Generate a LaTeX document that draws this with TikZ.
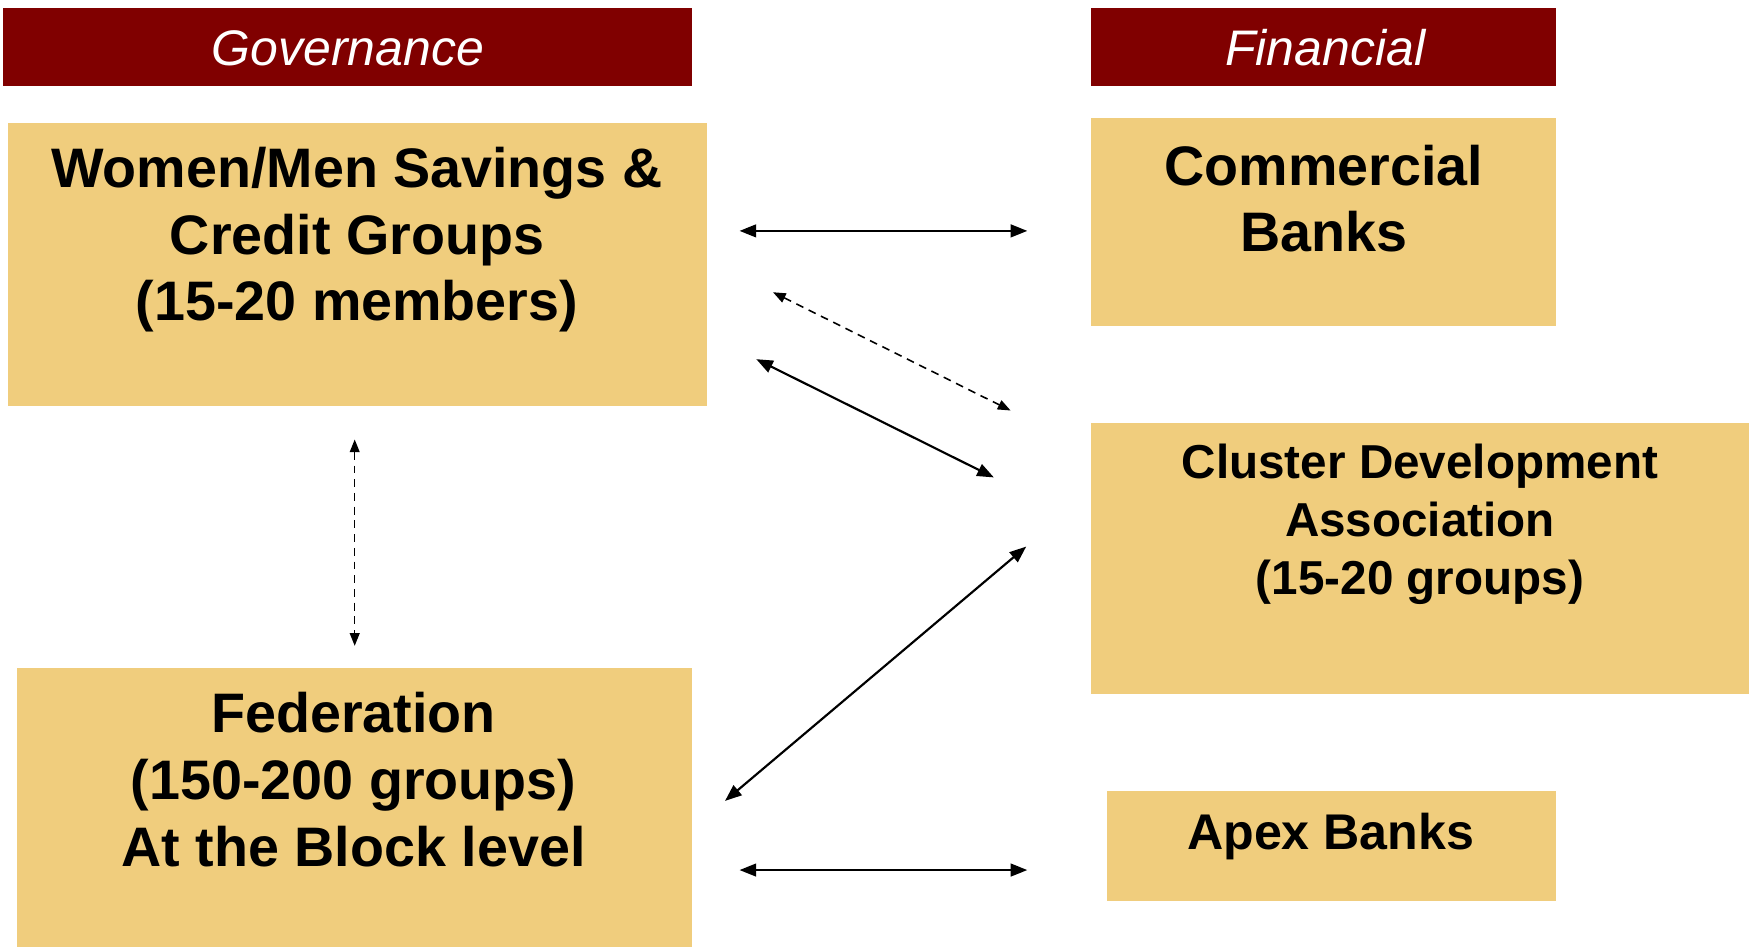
\documentclass[tikz,border=0pt]{standalone}
\usepackage{fontspec}
\setmainfont{Liberation Sans}
\usetikzlibrary{arrows.meta,fit}
\definecolor{hdrred}{HTML}{800000}
\definecolor{boxtan}{HTML}{F0CD7D}
\begin{document}
\begin{tikzpicture}[x=0.02cm,y=-0.02cm,
  box/.style={fill=boxtan, draw=none, inner sep=0pt},
  hdrbox/.style={fill=hdrred, draw=none, inner sep=0pt},
  hdrtext/.style={text=white, font=\fontsize{25.5}{30}\selectfont\itshape, inner sep=0pt},
  bigtext/.style={font=\fontsize{28.4}{34}\selectfont\bfseries, align=center, inner sep=0pt},
  cdatext/.style={font=\fontsize{24.3}{29.5}\selectfont\bfseries, align=center, inner sep=0pt},
  apextext/.style={font=\fontsize{25.6}{30}\selectfont\bfseries, align=center, inner sep=0pt},
  link/.style={line width=1.1pt, {Triangle[length=8.5pt,width=6.5pt]}-{Triangle[length=8.5pt,width=6.5pt]}},
  dlink/.style={line width=0.8pt, dash pattern=on 4pt off 3pt, {Triangle[length=6.5pt,width=5pt]}-{Triangle[length=6.5pt,width=5pt]}}]
\useasboundingbox (0,0) rectangle (1568,849);
% headers
\node[hdrbox, fit={(3,7) (620,77)}] (govh) {};
\node[hdrbox, fit={(978,7) (1395,77)}] (finh) {};
\node[hdrtext] (govt) at (312,43) {Governance};
\node[hdrtext] (fint) at (1188,43) {Financial};
% boxes
\node[box, fit={(7,110) (634,364)}] (wm) {};
\node[box, fit={(978,106) (1395,292)}] (cb) {};
\node[box, fit={(978,379) (1568,622)}] (cda) {};
\node[box, fit={(15,599) (620,849)}] (fed) {};
\node[box, fit={(992,709) (1395,808)}] (apex) {};
% texts
\node[bigtext] (wmt) at (320,215) {Women/Men Savings \&\\Credit Groups\\(15-20 members)};
\node[bigtext] (cbt) at (1187,178) {Commercial\\Banks};
\node[cdatext] (cdat) at (1273,470) {Cluster Development\\Association\\(15-20 groups)};
\node[bigtext] (fedt) at (317,699) {Federation\\(150-200 groups)\\At the Block level};
\node[apextext] (apext) at (1193,750) {Apex Banks};
% connector end points
\coordinate (a1) at (663,207); \coordinate (a2) at (921,207);
\coordinate (b1) at (693,262); \coordinate (b2) at (906,368);
\coordinate (c1) at (678,322); \coordinate (c2) at (891,428);
\coordinate (d1) at (650,718); \coordinate (d2) at (920,490);
\coordinate (e1) at (663,780); \coordinate (e2) at (921,780);
\coordinate (f1) at (318,394); \coordinate (f2) at (318,579);
% connectors
\draw[link] (a1) -- (a2);
\draw[dlink] (b1) -- (b2);
\draw[link] (c1) -- (c2);
\draw[link] (d1) -- (d2);
\draw[link] (e1) -- (e2);
\draw[dlink] (f1) -- (f2);
\end{tikzpicture}
\end{document}
